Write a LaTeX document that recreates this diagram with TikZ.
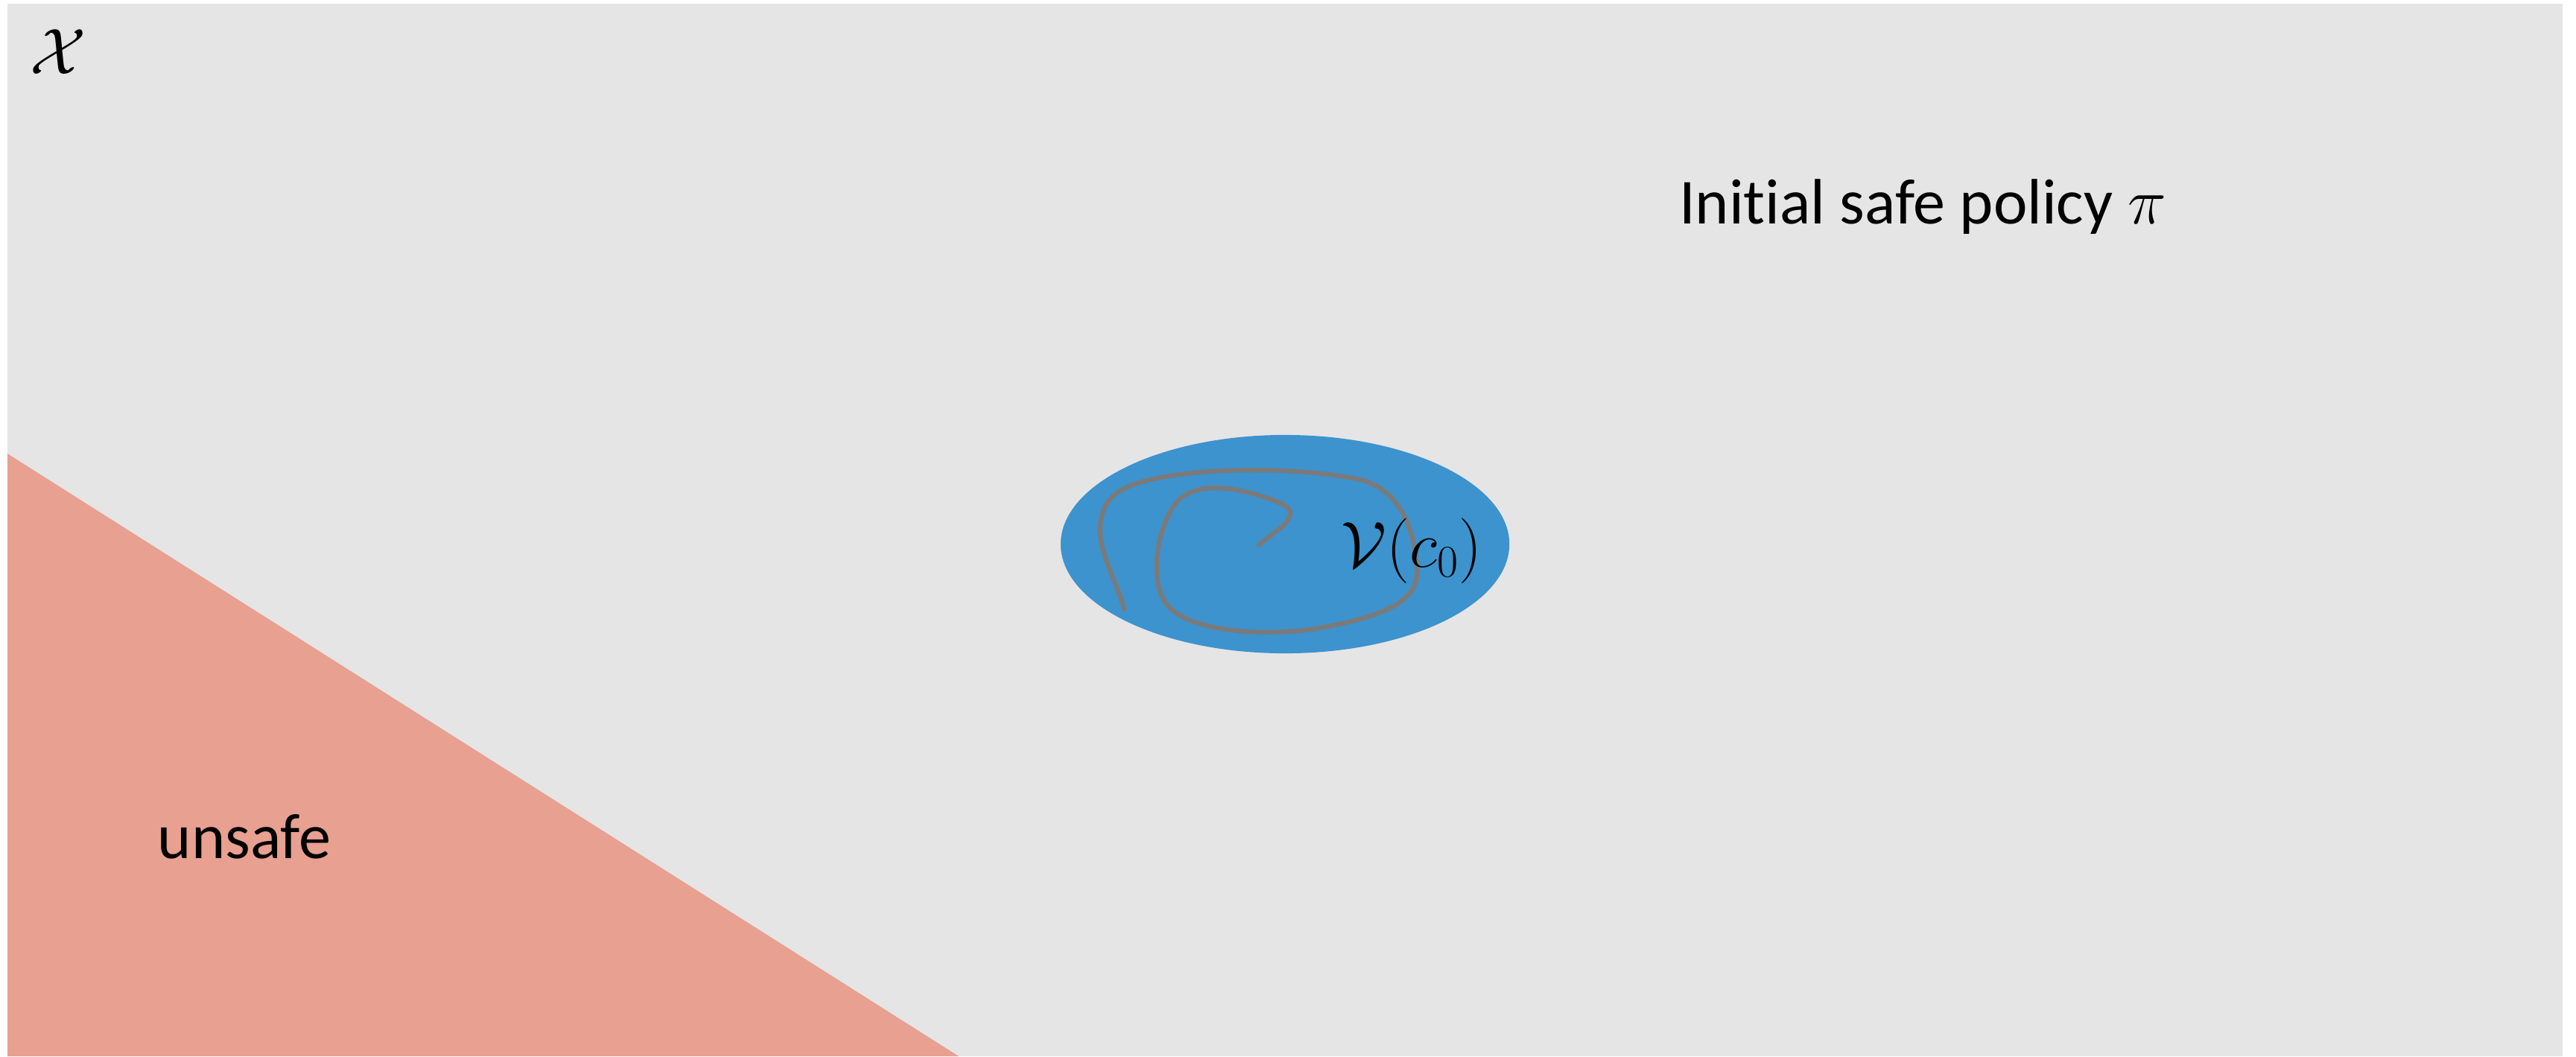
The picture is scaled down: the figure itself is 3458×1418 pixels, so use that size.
\documentclass[tikz,border=0pt]{standalone}
\usepackage[no-math]{fontspec}
\setmainfont{Carlito}[Ligatures={NoCommon}]
\usetikzlibrary{shapes.geometric}
\definecolor{bggray}{HTML}{E5E5E5}
\definecolor{unsafered}{HTML}{E8A091}
\definecolor{regionblue}{HTML}{3D93CD}
\definecolor{trajgray}{HTML}{7A7A7A}
\tikzset{
  labeltext/.style={inner sep=0pt, anchor=base, font=\fontsize{24.5}{29}\selectfont},
  mathtext/.style={inner sep=0pt, anchor=base, font=\fontsize{26}{31}\selectfont},
  traj/.style={draw=trajgray, line width=0.062cm, line cap=butt, line join=round},
}
\begin{document}
\begin{tikzpicture}[x=0.01cm,y=-0.01cm]
\useasboundingbox (0,0) rectangle (3458,1418);
\fill[white] (0,0) rectangle (3458,1418);
\fill[bggray] (10,5) rectangle (3440,1418);
\fill[unsafered] (10,609) -- (10,1418) -- (1287,1418) -- cycle;
\node[ellipse, fill=regionblue, inner sep=0pt, minimum width=6.02cm, minimum height=2.93cm] (region) at (1725,730.5) {};
\draw[traj] (1510,820)
  .. controls (1495,770) and (1474,740) .. (1477,705)
  .. controls (1480,670) and (1500,655) .. (1540,645)
  .. controls (1620,625) and (1760,628) .. (1830,645)
  .. controls (1885,662) and (1900,720) .. (1902,765)
  .. controls (1905,810) and (1850,830) .. (1760,845)
  .. controls (1680,855) and (1590,845) .. (1565,810)
  .. controls (1545,780) and (1550,720) .. (1575,680)
  .. controls (1595,650) and (1640,650) .. (1690,665)
  .. controls (1730,678) and (1745,685) .. (1720,708)
  -- (1688,733);
\node[mathtext] (space) at (78,99) {$\mathcal{X}$};
\node[mathtext] (vc) at (1895,761) {$\mathcal{V}(c_0)$};
\node[labeltext] (policy) at (2581,300) {Initial safe policy $\pi$};
\node[labeltext] (unsafe) at (328,1152) {unsafe};
\end{tikzpicture}
\end{document}
